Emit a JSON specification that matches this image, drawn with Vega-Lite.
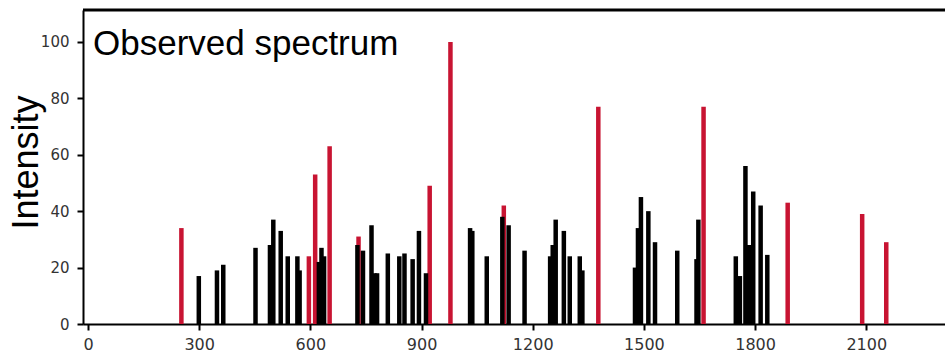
{
  "$schema": "https://vega.github.io/schema/vega-lite/v6.json",
  "width": 862,
  "height": 314,
  "autosize": {"type": "none"},
  "padding": {"left": 83, "top": 10, "right": 0, "bottom": 32},
  "background": "white",
  "config": {
    "view": {"stroke": "#c8c8c8", "strokeWidth": 1},
    "font": "Liberation Sans"
  },
  "title": {
    "text": "Observed spectrum",
    "orient": "top",
    "anchor": "start",
    "frame": "group",
    "offset": -81,
    "dx": 10,
    "fontSize": 35,
    "fontWeight": "normal",
    "font": "Liberation Sans",
    "color": "black",
    "baseline": "alphabetic"
  },
  "datasets": {
    "peaks": [
      {"mz": 252, "intensity": 34, "kind": "matched"},
      {"mz": 596, "intensity": 24, "kind": "matched"},
      {"mz": 613, "intensity": 53, "kind": "matched"},
      {"mz": 652, "intensity": 63, "kind": "matched"},
      {"mz": 730, "intensity": 31, "kind": "matched"},
      {"mz": 922, "intensity": 49, "kind": "matched"},
      {"mz": 978, "intensity": 100, "kind": "matched"},
      {"mz": 1122, "intensity": 42, "kind": "matched"},
      {"mz": 1377, "intensity": 77, "kind": "matched"},
      {"mz": 1661, "intensity": 77, "kind": "matched"},
      {"mz": 1888, "intensity": 43, "kind": "matched"},
      {"mz": 2089, "intensity": 39, "kind": "matched"},
      {"mz": 2154, "intensity": 29, "kind": "matched"},
      {"mz": 299, "intensity": 17, "kind": "other"},
      {"mz": 348, "intensity": 19, "kind": "other"},
      {"mz": 365, "intensity": 21, "kind": "other"},
      {"mz": 452, "intensity": 27, "kind": "other"},
      {"mz": 491, "intensity": 28, "kind": "other"},
      {"mz": 500, "intensity": 37, "kind": "other"},
      {"mz": 520, "intensity": 33, "kind": "other"},
      {"mz": 539, "intensity": 24, "kind": "other"},
      {"mz": 565, "intensity": 24, "kind": "other"},
      {"mz": 571, "intensity": 19, "kind": "other"},
      {"mz": 623, "intensity": 22, "kind": "other"},
      {"mz": 630, "intensity": 27, "kind": "other"},
      {"mz": 637, "intensity": 24, "kind": "other"},
      {"mz": 727, "intensity": 28, "kind": "other"},
      {"mz": 742, "intensity": 26, "kind": "other"},
      {"mz": 765, "intensity": 35, "kind": "other"},
      {"mz": 773, "intensity": 18, "kind": "other"},
      {"mz": 780, "intensity": 18, "kind": "other"},
      {"mz": 809, "intensity": 25, "kind": "other"},
      {"mz": 840, "intensity": 24, "kind": "other"},
      {"mz": 854, "intensity": 25, "kind": "other"},
      {"mz": 876, "intensity": 23, "kind": "other"},
      {"mz": 893, "intensity": 33, "kind": "other"},
      {"mz": 912, "intensity": 18, "kind": "other"},
      {"mz": 1031, "intensity": 34, "kind": "other"},
      {"mz": 1037, "intensity": 33, "kind": "other"},
      {"mz": 1076, "intensity": 24, "kind": "other"},
      {"mz": 1118, "intensity": 38, "kind": "other"},
      {"mz": 1135, "intensity": 35, "kind": "other"},
      {"mz": 1178, "intensity": 26, "kind": "other"},
      {"mz": 1247, "intensity": 24, "kind": "other"},
      {"mz": 1254, "intensity": 28, "kind": "other"},
      {"mz": 1262, "intensity": 37, "kind": "other"},
      {"mz": 1284, "intensity": 33, "kind": "other"},
      {"mz": 1300, "intensity": 24, "kind": "other"},
      {"mz": 1327, "intensity": 24, "kind": "other"},
      {"mz": 1334, "intensity": 19, "kind": "other"},
      {"mz": 1476, "intensity": 20, "kind": "other"},
      {"mz": 1484, "intensity": 34, "kind": "other"},
      {"mz": 1492, "intensity": 45, "kind": "other"},
      {"mz": 1512, "intensity": 40, "kind": "other"},
      {"mz": 1530, "intensity": 29, "kind": "other"},
      {"mz": 1590, "intensity": 26, "kind": "other"},
      {"mz": 1642, "intensity": 23, "kind": "other"},
      {"mz": 1647, "intensity": 37, "kind": "other"},
      {"mz": 1748, "intensity": 24, "kind": "other"},
      {"mz": 1759, "intensity": 17, "kind": "other"},
      {"mz": 1774, "intensity": 56, "kind": "other"},
      {"mz": 1778, "intensity": 24, "kind": "other"},
      {"mz": 1784, "intensity": 28, "kind": "other"},
      {"mz": 1795, "intensity": 47, "kind": "other"},
      {"mz": 1815, "intensity": 42, "kind": "other"},
      {"mz": 1833, "intensity": 24.5, "kind": "other"}
    ]
  },
  "layer": [
    {
      "data": {"name": "peaks"},
      "mark": {"type": "bar", "size": 4.5, "clip": true},
      "encoding": {
        "x": {
          "field": "mz",
          "type": "quantitative",
          "scale": {"domain": [0, 2299], "nice": false, "zero": false},
          "axis": {
            "title": null,
            "values": [0, 300, 600, 900, 1200, 1500, 1800, 2100],
            "format": "d",
            "grid": false,
            "domainColor": "black",
            "domainWidth": 2,
            "tickColor": "black",
            "tickWidth": 2,
            "tickSize": 6,
            "labelFont": "DejaVu Sans",
            "labelFontSize": 16,
            "labelColor": "#333333",
            "labelPadding": 6,
            "labelFlush": false
          }
        },
        "y": {
          "field": "intensity",
          "type": "quantitative",
          "scale": {"domain": [0, 111.3], "nice": false},
          "axis": {
            "title": "Intensity",
            "titleFont": "Liberation Sans",
            "titleFontSize": 36,
            "titleFontWeight": "normal",
            "titleColor": "black",
            "titleAngle": -90,
            "titleBaseline": "alphabetic",
            "titleAlign": "center",
            "titleX": -46,
            "titleY": 152,
            "values": [0, 10, 20, 30, 40, 50, 60, 70, 80, 90, 100],
            "labelExpr": "datum.value % 20 === 0 ? datum.label : ''",
            "grid": false,
            "domainColor": "black",
            "domainWidth": 2,
            "tickColor": "black",
            "tickWidth": 2,
            "tickSize": 6,
            "labelFont": "DejaVu Sans",
            "labelFontSize": 15,
            "labelColor": "#333333",
            "labelPadding": 8
          }
        },
        "color": {
          "field": "kind",
          "type": "nominal",
          "scale": {"domain": ["matched", "other"], "range": ["#c81432", "#000000"]},
          "legend": null
        }
      }
    },
    {
      "data": {"values": [{}]},
      "mark": {"type": "rule", "color": "black", "strokeWidth": 3},
      "encoding": {"y": {"datum": 111.3}}
    }
  ]
}
